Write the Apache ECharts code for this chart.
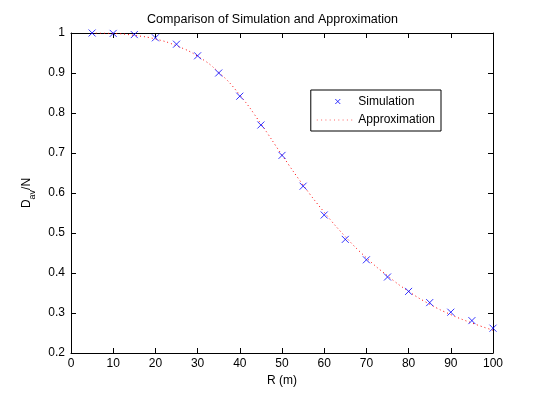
<!DOCTYPE html>
<html><head><meta charset="utf-8">
<script src="https://cdn.jsdelivr.net/npm/echarts@6/dist/echarts.min.js"></script>
<style>html,body{margin:0;padding:0;background:#fff}#c{width:545px;height:397px}</style>
</head><body><div id="c"></div>
<script>
const simR = [5,10,15,20,25,30,35,40,45,50,55,60,65,70,75,80,85,90,95,100];
const simVal = [1.000,0.999,0.996,0.988,0.972,0.943,0.900,0.842,0.770,0.694,0.617,0.545,0.484,0.433,0.390,0.354,0.326,0.302,0.281,0.262];
const apxR = [5,10,15,20,25,30,35,40,45,50,55,60,65,70,75,80,85,90,95,100];
const apxVal = [1.000,0.999,0.994,0.985,0.968,0.942,0.902,0.845,0.773,0.695,0.620,0.552,0.491,0.438,0.393,0.354,0.322,0.296,0.275,0.257];
const xTicks = [0,10,20,30,40,50,60,70,80,90,100];
const yTicks = [0.2,0.3,0.4,0.5,0.6,0.7,0.8,0.9,1];

const font = 'Liberation Sans, Arial, Helvetica, sans-serif';
const chart = echarts.init(document.getElementById('c'), null, {renderer:'canvas'});
const axisCommon = {
  axisLine:{show:true,onZero:false,lineStyle:{color:'#000',width:1}},
  axisTick:{show:true,inside:true,length:5,lineStyle:{color:'#000'}},
  splitLine:{show:false}
};
// legend icons: bbox 37x12 kept by zero-length corner segments
let dots = 'M0,0L0,0M37,12L37,12';
for (let x = 0.5; x < 37; x += 4.3) dots += 'M' + x.toFixed(1) + ',5.5h1v1h-1z';
const xIcon = 'path://M0,0L0,0M37,12L37,12M19,3.5L24,8.5M24,3.5L19,8.5';
const dotIcon = 'path://' + dots;

chart.setOption({
  animation:false,
  backgroundColor:'#fff',
  title:{text:'Comparison of Simulation and Approximation',left:'center',top:8,
    textStyle:{fontFamily:font,fontSize:12.5,fontWeight:'normal',color:'#000'}},
  grid:{left:71,right:52,top:33,bottom:44,containLabel:false},
  legend:{
    right:104,top:90,orient:'vertical',
    backgroundColor:'#fff',borderColor:'#000',borderWidth:1,
    padding:[5,6,5,5],itemGap:6,itemWidth:37,itemHeight:12,
    textStyle:{fontFamily:font,fontSize:12,color:'#000'},
    data:[
      {name:'Simulation',icon:xIcon,itemStyle:{color:'rgba(0,0,0,0)',borderColor:'#0000ff',borderWidth:1}},
      {name:'Approximation',icon:dotIcon,itemStyle:{color:'#ff6666',borderWidth:0}}
    ]
  },
  xAxis:[
    Object.assign({type:'value',min:0,max:100,interval:10,position:'bottom',
      name:'R (m)',nameLocation:'middle',nameGap:22,
      nameTextStyle:{fontFamily:font,fontSize:12,color:'#000'},
      axisLabel:{fontFamily:font,fontSize:12,color:'#000',margin:5}},axisCommon),
    Object.assign({type:'value',min:0,max:100,interval:10,position:'top',
      axisLabel:{show:false}},axisCommon)
  ],
  yAxis:[
    Object.assign({type:'value',min:0.2,max:1,interval:0.1,position:'left',
      name:'{m|D}{s|av}{m|/N}',nameLocation:'middle',nameGap:36,nameRotate:90,
      nameTextStyle:{rich:{m:{fontFamily:font,fontSize:12,color:'#000'},s:{fontFamily:font,fontSize:9,color:'#000',verticalAlign:'bottom',padding:[0,0,-5,0]}}},
      axisLabel:{fontFamily:font,fontSize:12,color:'#000',margin:6,formatter:v=>String(+v.toFixed(1))}},axisCommon),
    Object.assign({type:'value',min:0.2,max:1,interval:0.1,position:'right',
      axisLabel:{show:false}},axisCommon)
  ],
  series:[
    {name:'Simulation',type:'scatter',
      data:simR.map((r,i)=>[r,simVal[i]]),
      symbol:'path://M0,0L10,10M10,0L0,10',symbolSize:7,
      itemStyle:{color:'rgba(0,0,0,0)',borderColor:'#0000ff',borderWidth:1},z:3},
    {name:'Approximation',type:'line',smooth:true,showSymbol:false,symbol:'none',
      data:apxR.map((r,i)=>[r,apxVal[i]]),
      lineStyle:{color:'#ff0000',width:1,type:[1,3]},
      itemStyle:{color:'#ff0000'},z:2}
  ]
});
</script></body></html>
